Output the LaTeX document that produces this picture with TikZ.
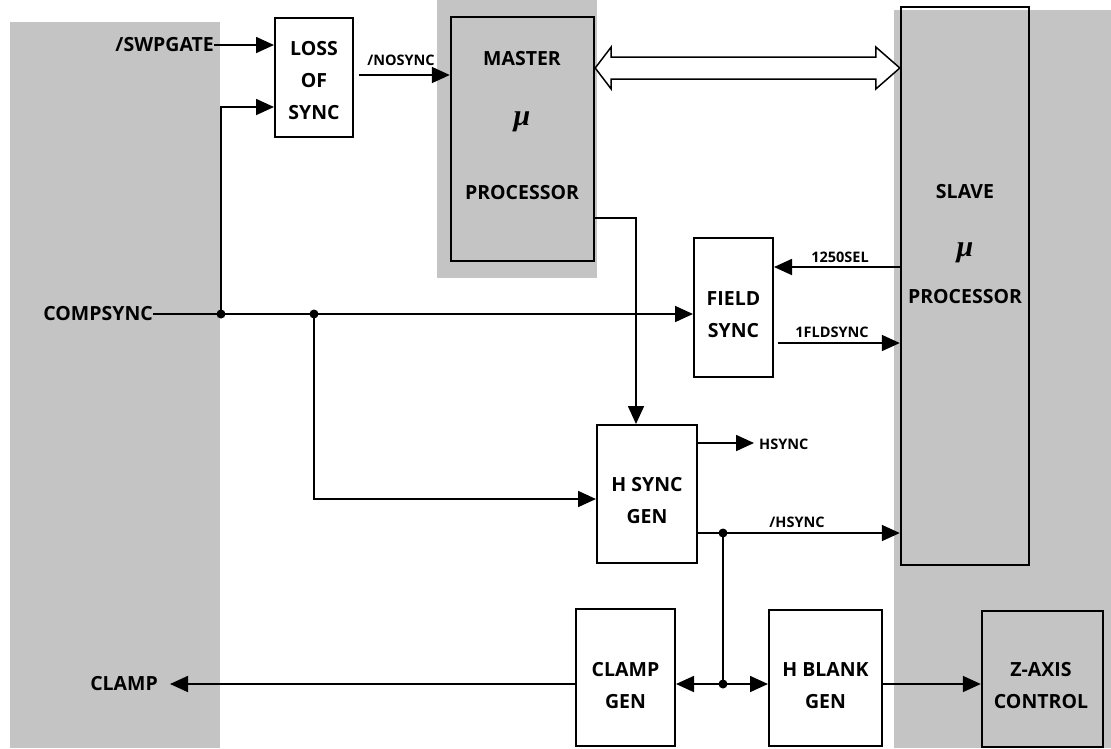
\documentclass[tikz,border=0pt]{standalone}
\usepackage{fontspec}
\setmainfont{Open Sans}
\newfontfamily\muserif{Liberation Serif}
\usetikzlibrary{arrows.meta,calc}
\definecolor{halftone}{gray}{0.77}
\begin{document}
\begin{tikzpicture}[x=1pt,y=-1pt,
  >={Triangle[length=18pt,width=16pt]},
  conn/.style={line width=1.7pt},
  box/.style={draw,line width=2pt,fill=white,inner sep=0pt},
  gbox/.style={draw,line width=2.4pt,inner sep=0pt},
  big/.style={font=\fontsize{19.5}{32}\selectfont\bfseries,align=center,inner sep=0pt},
  small/.style={font=\fontsize{14.5}{16}\selectfont\bfseries,inner sep=0pt},
  mutxt/.style={font=\fontsize{30}{30}\selectfont\muserif\bfseries\itshape,inner sep=0pt},
  dot/.style={circle,fill,inner sep=0pt,minimum size=9pt}]
\useasboundingbox (0,0) rectangle (1111,748);
\fill[white] (0,0) rectangle (1111,748);
\fill[halftone] (10,22) rectangle (220,748);
\fill[halftone] (437,0) rectangle (597,278);
\fill[halftone] (894,10) rectangle (1111,748);

% boxes
\node[box,minimum width=78pt,minimum height=119pt] (loss) at (314,77.5) {};
\node[big] (losst) at (314,80.5) {LOSS\\OF\\SYNC};
\node[gbox,minimum width=143pt,minimum height=244pt] (master) at (522.5,139) {};
\node[big] (mastert1) at (522,59) {MASTER};
\node[mutxt] (mastermu) at (522,122) {μ};
\node[big] (mastert2) at (522,193) {PROCESSOR};
\node[gbox,minimum width=128pt,minimum height=558pt] (slave) at (965,286) {};
\node[big] (slavet1) at (965,192) {SLAVE};
\node[mutxt] (slavemu) at (965,253) {μ};
\node[big] (slavet2) at (965,297) {PROCESSOR};
\node[box,minimum width=79pt,minimum height=139pt] (field) at (733.5,307.5) {};
\node[big] (fieldt) at (733.5,315) {FIELD\\SYNC};
\node[box,minimum width=100pt,minimum height=138pt] (hsync) at (647,494) {};
\node[big] (hsynct) at (647,501) {H SYNC\\GEN};
\node[box,minimum width=99pt,minimum height=137pt] (clamp) at (625.5,677.5) {};
\node[big] (clampt) at (625.5,686) {CLAMP\\GEN};
\node[box,minimum width=113pt,minimum height=136pt] (hblank) at (825.5,678) {};
\node[big] (hblankt) at (825.5,686) {H BLANK\\GEN};
\node[gbox,minimum width=121pt,minimum height=136pt] (zaxis) at (1042.5,679) {};
\node[big] (zaxist) at (1041,686) {Z-AXIS\\CONTROL};

% signal labels
\node[big,anchor=east] (swp) at (214,45) {/SWPGATE};
\node[big,anchor=east] (comp) at (153,314) {COMPSYNC};
\node[big,anchor=east] (clampl) at (158,684) {CLAMP};
\node[small] (nosyncl) at (401,60) {/NOSYNC};
\node[small] (sell) at (840,257) {1250SEL};
\node[small] (fldl) at (832,332) {1FLDSYNC};
\node[small,anchor=west] (hsl) at (759,444) {HSYNC};
\node[small] (nhsl) at (797,522) {/HSYNC};

% junctions
\node[dot] (j1) at (221,314) {};
\node[dot] (j2) at (314,314) {};
\node[dot] (j3) at (723,533) {};
\node[dot] (j4) at (723,684) {};

% connectors
\draw[conn,->] (swp.east) -- (swp.east -| loss.west);
\draw[conn] (comp.east) -- (j1.center) -- (j2.center);
\draw[conn,->] (j2.center) -- (j2.center -| field.west);
\draw[conn,->] (j1.center) |- ([yshift=-29.5pt]loss.west);
\draw[conn,->] (j2.center) |- ([yshift=-5pt]hsync.west);
\coordinate (nos) at ([xshift=5pt,yshift=2.5pt]loss.east);
\draw[conn,->] (nos) -- (nos -| master.west);
\draw[conn,->] ([yshift=-79pt]master.east) -| ([xshift=-11pt]hsync.north);
\coordinate (sel) at ([yshift=40.5pt]field.east);
\draw[conn,->] (sel -| slave.west) -- (sel);
\coordinate (fld) at ([xshift=4pt,yshift=-35.5pt]field.east);
\draw[conn,->] (fld) -- (fld -| slave.west);
\coordinate (hs) at ([yshift=51pt]hsync.east);
\draw[conn,->] (hs) -- ([xshift=-5pt]hsl.west |- hs);
\draw[conn] (j3.center -| hsync.east) -- (j3.center);
\draw[conn,->] (j3.center) -- (j3.center -| slave.west);
\draw[conn] (j3.center) -- (j4.center);
\draw[conn,->] (j4.center) -- (j4.center -| clamp.east);
\draw[conn,->] (j4.center) -- (j4.center -| hblank.west);
\draw[conn,->] (j4.center -| clamp.west) -- ([xshift=12pt]clampl.east);
\draw[conn,->] (j4.center -| hblank.east) -- (j4.center -| zaxis.west);

% bus double arrow
\coordinate (busL) at ([yshift=71pt]master.east);
\coordinate (busR) at (busL -| slave.west);
\draw[line width=1.5pt,fill=white,line join=miter]
  (busL) -- ($(busL)+(16,-21)$) -- ($(busL)+(16,-11)$) -- ($(busR)+(-24,-11)$)
  -- ($(busR)+(-24,-21)$) -- (busR) -- ($(busR)+(-24,21)$) -- ($(busR)+(-24,11)$)
  -- ($(busL)+(16,11)$) -- ($(busL)+(16,21)$) -- cycle;
\end{tikzpicture}
\end{document}
